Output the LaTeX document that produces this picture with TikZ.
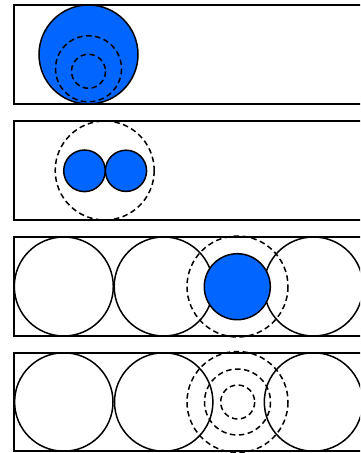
\documentclass[tikz,border=0pt]{standalone}
\definecolor{ballblue}{HTML}{0066FF}
\tikzset{
  panel/.style={draw=black, line width=1.6pt},
  ring/.style={draw=black, line width=1.5pt},
  ball/.style={draw=black, fill=ballblue, line width=1.5pt},
  wave/.style={draw=black, line width=1.5pt, dash pattern=on 5.5pt off 3.5pt},
}
\begin{document}
\begin{tikzpicture}[x=1pt,y=-1pt]
\useasboundingbox (0,0) rectangle (360,453);
\clip (0,0) rectangle (360,453);
% panel 1
\draw[panel] (14,5) rectangle (370,104);
\draw[ball] (88.5,54.5) circle (49.5);
\draw[wave] (88.5,68.8) circle (33);
\draw[wave] (88.5,71.3) circle (17);
% panel 2
\draw[panel] (14,121) rectangle (370,220);
\draw[wave] (104.7,170.5) circle (49.5);
\draw[ball] (84.5,170.8) circle (20.8);
\draw[ball] (126,170.8) circle (20.6);
% panel 3
\draw[panel] (14,237) rectangle (370,336);
\draw[ring] (63.8,286.5) circle (49.5);
\draw[ring] (163.7,286.5) circle (49.5);
\draw[ring] (313.5,286.5) circle (49.5);
\draw[wave] (237.5,286.5) circle (50.5);
\draw[ball] (237.3,286.7) circle (33);
% panel 4
\draw[panel] (14,353) rectangle (370,451);
\draw[ring] (63.8,402) circle (49.2);
\draw[ring] (163.7,402) circle (49.2);
\draw[ring] (313.5,402) circle (49.2);
\draw[wave] (237.5,402) circle (50.5);
\draw[wave] (237.5,402) circle (33);
\draw[wave] (237.7,402) circle (17);
\end{tikzpicture}
\end{document}
